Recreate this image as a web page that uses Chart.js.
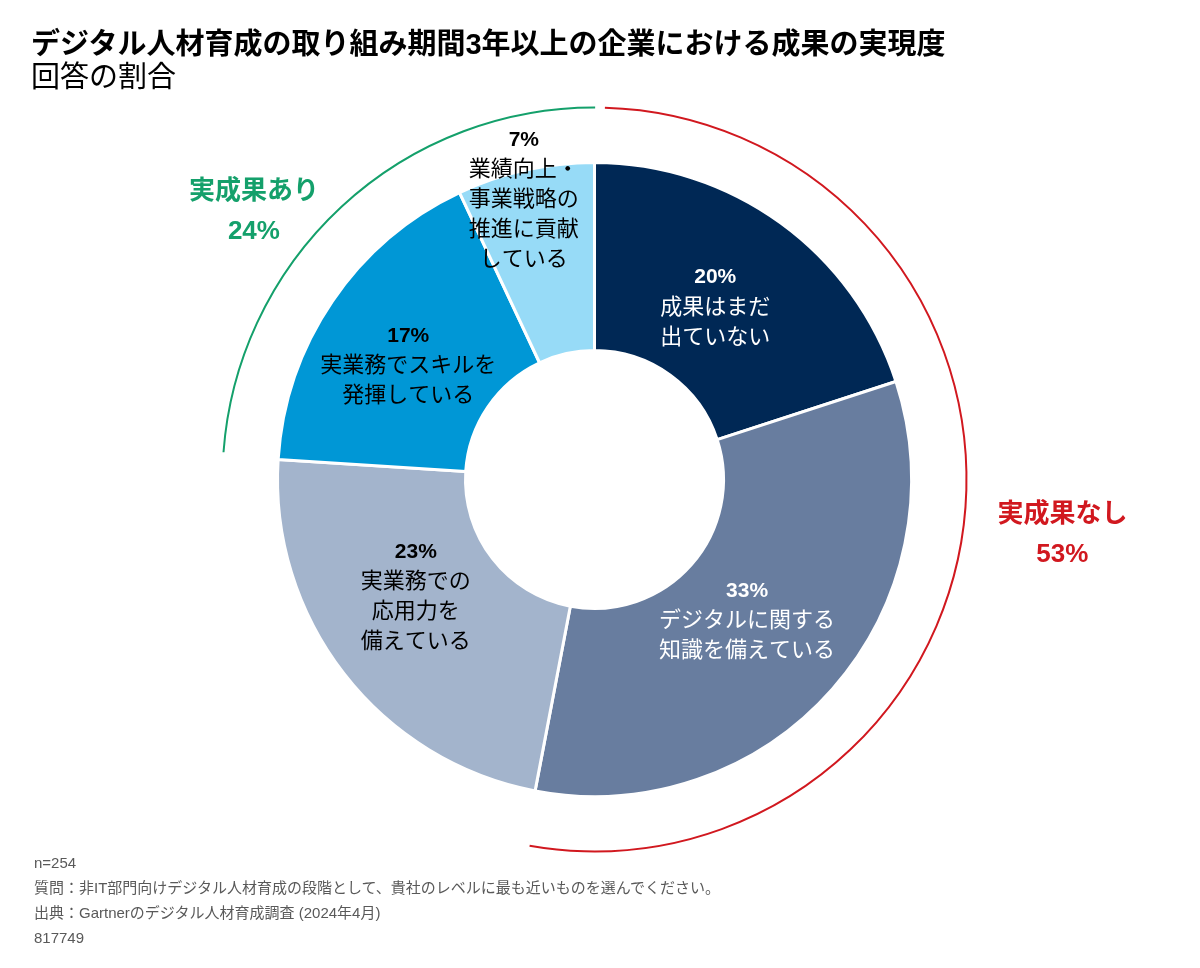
<!DOCTYPE html>
<html lang="ja">
<head>
<meta charset="utf-8">
<script src="https://cdn.jsdelivr.net/npm/chart.js@4.4.1/dist/chart.umd.min.js"></script>
<style>
    body {
        margin: 0;
        background: #fff;
        font-family: "Liberation Sans", Arial, "Noto Sans CJK JP", sans-serif;
    }
    .page {
        position: relative;
        width: 1200px;
        height: 968px;
        overflow: hidden;
    }
    .title {
        position: absolute;
        left: 31px;
        top: 28px;
        font-size: 29px;
        line-height: 33px;
        color: #000;
    }
    .title b { font-weight: bold; }
    .chart-wrap {
        position: absolute;
        left: 0;
        top: 0;
        width: 1200px;
        height: 968px;
    }
    .notes {
        position: absolute;
        left: 34px;
        top: 850px;
        font-size: 15px;
        line-height: 25px;
        color: #595959;
    }
</style>
</head>
<body>
<div class="page">
    <div class="chart-wrap"><canvas id="donut"></canvas></div>
    <div class="title">
        <b>デジタル人材育成の取り組み期間3年以上の企業における成果の実現度</b><br>
        回答の割合
    </div>
    <div class="notes">
        n=254<br>
        質問：非IT部門向けデジタル人材育成の段階として、貴社のレベルに最も近いものを選んでください。<br>
        出典：Gartnerのデジタル人材育成調査 (2024年4月)<br>
        817749
    </div>
</div>

<script>
// slices, clockwise from 12 o'clock
const labels = [
    ["成果はまだ", "出ていない"],
    ["デジタルに関する", "知識を備えている"],
    ["実業務での", "応用力を", "備えている"],
    ["実業務でスキルを", "発揮している"],
    ["業績向上・", "事業戦略の", "推進に貢献", "している"]
]
const values = [20, 33, 23, 17, 7]

const groupNames = ["実成果なし", "実成果あり"]
const groupValues = [53, 24]
const groupMembers = [[0, 1], [3, 4]]

const sliceColors = ["#002855", "#687d9f", "#a3b4cc", "#0097d6", "#97dbf7"]
const textColors = ["#fff", "#fff", "#000", "#000", "#000"]
// label placement: distance from centre and shift from slice middle (deg)
const labelRadius = [210, 208, 214, 218, 288]
const labelShift = [-0.9, 1.4, 4.4, -2.9, -1.6]
const groupColors = ["#d1181f", "#14a06b"]
const groupTrim = [[1.6, 0.75], [0.6, -0.1]]
const groupLabelPos = [{ r: 471, deg: 96.6 }, { r: 434, deg: 308.3 }]

const font = '"Liberation Sans", Arial, "Noto Sans CJK JP", sans-serif'
const rad = d => d * Math.PI / 180

const sliceLabels = {
    id: "sliceLabels",
    afterDatasetsDraw(chart) {
        const ctx = chart.ctx
        const meta = chart.getDatasetMeta(0)
        ctx.save()
        ctx.textAlign = "center"
        ctx.textBaseline = "middle"
        meta.data.forEach((arc, i) => {
            const mid = (arc.startAngle + arc.endAngle) / 2 + rad(labelShift[i])
            const cx = arc.x + Math.cos(mid) * labelRadius[i]
            const cy = arc.y + Math.sin(mid) * labelRadius[i]
            const lines = [values[i] + "%"].concat(labels[i])
            const lh = 30
            const top = cy - (lines.length - 1) * lh / 2
            ctx.fillStyle = textColors[i]
            lines.forEach((line, j) => {
                ctx.font = (j === 0 ? "bold 21px " : "22px ") + font
                ctx.fillText(line, cx, top + j * lh)
            })
        })
        ctx.restore()
    }
}

const groupArcs = {
    id: "groupArcs",
    afterDatasetsDraw(chart) {
        const ctx = chart.ctx
        const meta = chart.getDatasetMeta(0)
        const first = meta.data[0]
        const cx = first.x
        const cy = first.y
        const r = first.outerRadius + 55
        ctx.save()
        groupMembers.forEach((members, g) => {
            const a0 = meta.data[members[0]].startAngle + rad(groupTrim[g][0])
            const a1 = meta.data[members[members.length - 1]].endAngle - rad(groupTrim[g][1])
            ctx.beginPath()
            ctx.arc(cx, cy, r, a0, a1)
            ctx.strokeStyle = groupColors[g]
            ctx.lineWidth = 2
            ctx.stroke()

            const ang = rad(groupLabelPos[g].deg - 90)
            const lx = cx + Math.cos(ang) * groupLabelPos[g].r
            const ly = cy + Math.sin(ang) * groupLabelPos[g].r
            ctx.fillStyle = groupColors[g]
            ctx.textAlign = "center"
            ctx.textBaseline = "middle"
            ctx.font = "bold 26px " + font
            ctx.fillText(groupNames[g], lx, ly - 19)
            ctx.fillText(groupValues[g] + "%", lx, ly + 21)
        })
        ctx.restore()
    }
}

new Chart(document.getElementById("donut"), {
    type: "doughnut",
    data: {
        labels: labels.map(l => l.join("")),
        datasets: [{
            data: values,
            backgroundColor: sliceColors,
            borderColor: "#fff",
            borderWidth: 3,
            hoverOffset: 0,
            offset: 0
        }]
    },
    options: {
        responsive: true,
        maintainAspectRatio: false,
        animation: false,
        cutout: "40.7%",
        layout: {
            padding: { left: 276, right: 287, top: 161, bottom: 170 }
        },
        plugins: {
            legend: { display: false },
            tooltip: { enabled: false }
        }
    },
    plugins: [groupArcs, sliceLabels]
})
</script>
</body>
</html>
